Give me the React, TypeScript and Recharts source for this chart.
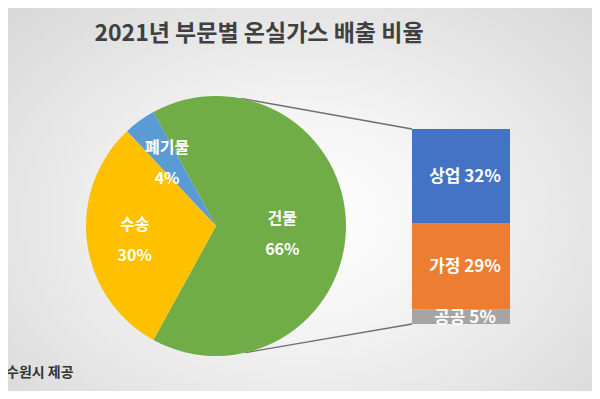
import React from 'react';
import { PieChart, Pie, Cell, BarChart, Bar, XAxis, YAxis, LabelList } from 'recharts';

const SECTORS = ['건물', '폐기물', '수송'];
const SECTOR_VALUES = [66, 4, 30];
const SECTOR_COLORS = ['#70AD47', '#5B9BD5', '#FFC000'];

const SUB_NAMES = ['공공', '가정', '상업'];
const SUB_VALUES = [5, 29, 32];
const SUB_COLORS = ['#A5A5A5', '#ED7D31', '#4472C4'];

const pieData = SECTORS.map((name, i) => ({ name, value: SECTOR_VALUES[i] }));
const barRow: Record<string, string | number> = { name: '건물' };
SUB_NAMES.forEach((n, i) => { barRow[n] = SUB_VALUES[i]; });
const barData = [barRow];

const FONT = '"Noto Sans CJK KR", "Noto Sans", sans-serif';
const CX = 216;
const CY = 226;
const R = 130;
// half of the split slice's angle, so the first slice is centred on the right
const HALF = (SECTOR_VALUES[0] / SECTOR_VALUES.reduce((a, b) => a + b, 0)) * 180;
const LABEL_R = [0.51, 0.64, 0.63];

const BAR_X = 412;
const BAR_Y = 129;
const BAR_W = 98;
const BAR_H = 195;
const BAR_PAD = 12;

const RAD = Math.PI / 180;

const renderPieLabel = (props: any) => {
  const { cx, cy, midAngle, outerRadius, index, name, value } = props;
  const r = outerRadius * LABEL_R[index];
  const x = cx + r * Math.cos(-midAngle * RAD);
  const y = cy + r * Math.sin(-midAngle * RAD) + (index === 0 ? 7 : 3);
  return (
    <text x={x} textAnchor="middle" fill="#fff" fontFamily={FONT} fontWeight={700} fontSize={16}>
      <tspan x={x} y={y - 9}>{name}</tspan>
      <tspan x={x} y={y + 22}>{value}%</tspan>
    </text>
  );
};

const barLabel = (name: string) => (props: any) => {
  const { x, y, width, height, value } = props;
  return (
    <text
      x={x + width / 2 + 4}
      y={y + height / 2 + 6}
      textAnchor="middle"
      fill="#fff"
      fontFamily={FONT}
      fontWeight={700}
      fontSize={17}
    >
      {name} {value}%
    </text>
  );
};

export default function App() {
  const a1 = 79 * RAD;
  const a2 = -77 * RAD;
  const p1 = { x: CX + R * Math.cos(a1), y: CY - R * Math.sin(a1) };
  const p2 = { x: CX + R * Math.cos(a2), y: CY - R * Math.sin(a2) };

  return (
    <div
      style={{
        position: 'relative',
        width: 600,
        height: 399,
        margin: -8,
        overflow: 'hidden',
        background: 'radial-gradient(ellipse at 50% 55%, #ffffff 0%, #f4f4f4 35%, #d6d6d6 100%)',
        fontFamily: FONT,
      }}
    >
      <div
        style={{
          position: 'absolute',
          left: 0,
          width: 518,
          top: 14,
          textAlign: 'center',
          fontSize: 23,
          fontWeight: 700,
          color: '#404040',
        }}
      >
        2021년 부문별 온실가스 배출 비율
      </div>

      <svg width={600} height={399} style={{ position: 'absolute', left: 0, top: 0 }}>
        <line x1={p1.x} y1={p1.y} x2={BAR_X} y2={BAR_Y} stroke="#6e6e6e" strokeWidth={1.3} />
        <line x1={p2.x} y1={p2.y} x2={BAR_X} y2={BAR_Y + BAR_H} stroke="#6e6e6e" strokeWidth={1.3} />
      </svg>

      <div style={{ position: 'absolute', left: 0, top: 0 }}>
        <PieChart width={600} height={399} margin={{ top: 0, right: 0, bottom: 0, left: 0 }}>
          <Pie
            data={pieData}
            dataKey="value"
            nameKey="name"
            cx={CX}
            cy={CY}
            outerRadius={R}
            startAngle={-HALF}
            endAngle={360 - HALF}
            stroke="none"
            label={renderPieLabel}
            labelLine={false}
            isAnimationActive={false}
          >
            {pieData.map((d, i) => (
              <Cell key={d.name} fill={SECTOR_COLORS[i]} />
            ))}
          </Pie>
        </PieChart>
      </div>

      <div style={{ position: 'absolute', left: BAR_X - BAR_PAD, top: BAR_Y - BAR_PAD }}>
        <BarChart
          width={BAR_W + BAR_PAD * 2}
          height={BAR_H + BAR_PAD * 2}
          data={barData}
          margin={{ top: BAR_PAD, right: BAR_PAD, bottom: BAR_PAD, left: BAR_PAD }}
          barCategoryGap={0}
          style={{ overflow: 'visible' }}
        >
          <XAxis dataKey="name" hide />
          <YAxis hide domain={[0, SUB_VALUES.reduce((a, b) => a + b, 0)]} />
          {SUB_NAMES.map((n, i) => (
            <Bar key={n} dataKey={n} stackId="s" fill={SUB_COLORS[i]} isAnimationActive={false}>
              <LabelList dataKey={n} content={barLabel(n)} />
            </Bar>
          ))}
        </BarChart>
      </div>

      <div
        style={{
          position: 'absolute',
          left: 6,
          top: 361,
          fontSize: 14,
          fontWeight: 700,
          color: '#333',
        }}
      >
        수원시 제공
      </div>
    </div>
  );
}
